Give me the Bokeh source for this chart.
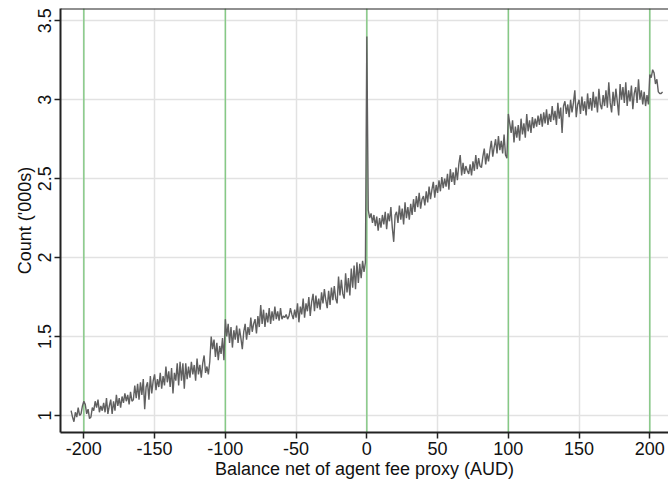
import numpy as np
from bokeh.plotting import figure
from bokeh.models import Span, FixedTicker, CustomJSTickFormatter
from bokeh.embed import file_html
from bokeh.resources import INLINE

# Balance bins (1 AUD wide) and counts in thousands
balance = list(range(-209, 210))
count = [
    1.03, 0.99, 0.96, 1.02, 0.99, 1.05, 1.00, 1.01, 1.06, 1.09,
    1.07, 1.01, 1.04, 0.98, 0.99, 1.05, 1.03, 1.09, 1.05, 1.10,
    1.02, 1.06, 1.03, 1.08, 1.02, 1.11, 1.01, 1.06, 1.10, 1.01,
    1.09, 1.03, 1.13, 1.06, 1.11, 1.05, 1.12, 1.08, 1.14, 1.09,
    1.13, 1.07, 1.15, 1.09, 1.10, 1.19, 1.11, 1.20, 1.10, 1.21,
    1.13, 1.23, 1.04, 1.18, 1.21, 1.10, 1.25, 1.14, 1.22, 1.26,
    1.16, 1.23, 1.18, 1.27, 1.17, 1.25, 1.19, 1.31, 1.21, 1.28,
    1.18, 1.30, 1.14, 1.27, 1.22, 1.33, 1.19, 1.34, 1.22, 1.33,
    1.17, 1.33, 1.23, 1.31, 1.24, 1.34, 1.26, 1.32, 1.22, 1.36,
    1.26, 1.32, 1.24, 1.33, 1.38, 1.27, 1.31, 1.26, 1.34, 1.50,
    1.42, 1.48, 1.37, 1.46, 1.35, 1.44, 1.39, 1.49, 1.35, 1.61,
    1.50, 1.58, 1.46, 1.56, 1.43, 1.54, 1.48, 1.57, 1.46, 1.55,
    1.49, 1.42, 1.53, 1.58, 1.48, 1.56, 1.51, 1.62, 1.53, 1.58,
    1.61, 1.52, 1.63, 1.56, 1.70, 1.58, 1.67, 1.56, 1.65, 1.59,
    1.68, 1.58, 1.66, 1.60, 1.69, 1.61, 1.66, 1.60, 1.68, 1.61,
    1.63, 1.62, 1.64, 1.61, 1.63, 1.68, 1.64, 1.61, 1.67, 1.62,
    1.71, 1.59, 1.69, 1.64, 1.74, 1.62, 1.71, 1.66, 1.75, 1.63,
    1.72, 1.77, 1.66, 1.76, 1.68, 1.74, 1.67, 1.78, 1.71, 1.80,
    1.73, 1.68, 1.79, 1.70, 1.81, 1.73, 1.82, 1.74, 1.71, 1.88,
    1.76, 1.86, 1.77, 1.74, 1.90, 1.78, 1.87, 1.76, 1.93, 1.81,
    1.95, 1.80, 1.97, 1.84, 1.96, 1.87, 1.98, 1.91, 1.97,
    3.40,
    2.30, 2.25, 2.28, 2.22, 2.27, 2.20, 2.26, 2.17, 2.25, 2.19,
    2.27, 2.21, 2.29, 2.18, 2.28, 2.23, 2.32, 2.19, 2.10, 2.27,
    2.29, 2.22, 2.33, 2.24, 2.31, 2.21, 2.35, 2.25, 2.32, 2.24,
    2.34, 2.27, 2.37, 2.29, 2.39, 2.32, 2.41, 2.31, 2.37, 2.39,
    2.33, 2.42, 2.35, 2.45, 2.37, 2.43, 2.48, 2.38, 2.46, 2.41,
    2.49, 2.42, 2.51, 2.44, 2.50, 2.45, 2.53, 2.43, 2.56, 2.48,
    2.54, 2.46, 2.57, 2.49, 2.59, 2.65, 2.52, 2.60, 2.53, 2.58,
    2.55, 2.53, 2.59, 2.52, 2.61, 2.55, 2.65, 2.56, 2.63, 2.58,
    2.57, 2.64, 2.69, 2.59, 2.66, 2.61, 2.68, 2.74, 2.64, 2.70,
    2.75, 2.66, 2.77, 2.68, 2.74, 2.66, 2.78, 2.65, 2.63,
    2.91,
    2.85, 2.79, 2.87, 2.73, 2.83, 2.76, 2.84, 2.74, 2.88, 2.78,
    2.85, 2.76, 2.91, 2.80, 2.87, 2.79, 2.89, 2.82, 2.88, 2.83,
    2.90, 2.84, 2.91, 2.83, 2.92, 2.85, 2.94, 2.84, 2.91, 2.86,
    2.96, 2.87, 2.93, 2.84, 2.98, 2.88, 2.95, 2.79, 2.96, 2.99,
    2.91, 2.97, 2.89, 3.00, 2.92, 2.98, 3.06, 2.89, 2.97, 3.00,
    2.91, 3.02, 2.93, 2.99, 2.90, 3.04, 2.94, 3.01, 2.93, 3.05,
    2.95, 3.02, 2.92, 3.07, 2.97, 2.94, 3.03, 2.96, 3.06, 2.95,
    3.11, 2.98, 2.92, 3.05, 2.96, 3.07, 2.99, 2.90, 3.10, 3.00,
    3.08, 2.98, 3.11, 2.96, 3.06, 2.99, 3.09, 2.94, 3.04, 3.08,
    2.98, 3.13, 3.00, 3.06, 2.97, 3.05, 2.96, 3.03, 2.97,
    3.16, 3.14, 3.19, 3.17, 3.10, 3.13, 3.05, 3.04, 3.04, 3.05,
]
assert len(balance) == len(count)

x_ticks = [-200, -150, -100, -50, 0, 50, 100, 150, 200]
y_ticks = [1, 1.5, 2, 2.5, 3, 3.5]
marker_lines = [-200, -100, 0, 100, 200]

FONT = "Liberation Sans"

p = figure(
    width=668, height=483,
    x_range=(-216.5, 213.2), y_range=(0.892, 3.578),
    output_backend="svg", toolbar_location=None,
    min_border_left=60, min_border_right=0,
    min_border_top=8, min_border_bottom=51,
    background_fill_color="white", border_fill_color="white",
)
p.outline_line_color = None

# Gridlines
for g in (p.xgrid, p.ygrid):
    g.grid_line_color = "#e2e2e2"
    g.grid_line_width = 1.5
p.xgrid.ticker = FixedTicker(ticks=x_ticks)
p.ygrid.ticker = FixedTicker(ticks=y_ticks)

# Reference lines every 100 AUD
for xv in marker_lines:
    p.add_layout(Span(location=xv, dimension="height", line_color="#86c986",
                      line_width=1.5, level="underlay"))

# Top frame line
p.add_layout(Span(location=3.578, dimension="width", line_color="#222222",
                  line_width=2))

p.line(balance, count, line_color="#606060", line_width=1.4)

# Axes
p.xaxis.ticker = FixedTicker(ticks=x_ticks)
p.yaxis.ticker = FixedTicker(ticks=y_ticks)
p.yaxis.formatter = CustomJSTickFormatter(code="return tick.toString();")
p.xaxis.formatter = CustomJSTickFormatter(code="return tick.toString();")
p.xaxis.axis_label = "Balance net of agent fee proxy (AUD)"
p.yaxis.axis_label = "Count ('000s)"
p.yaxis.major_label_orientation = "vertical"
for ax in (p.xaxis[0], p.yaxis[0]):
    ax.axis_line_color = "#222222"
    ax.axis_line_width = 2
    ax.major_tick_line_color = "#222222"
    ax.major_tick_line_width = 1.5
    ax.major_tick_out = 6
    ax.major_tick_in = 0
    ax.minor_tick_line_color = None
    ax.major_label_text_font = FONT
    ax.major_label_text_font_size = "18px"
    ax.major_label_text_color = "#111111"
    ax.axis_label_text_font = FONT
    ax.axis_label_text_font_size = "18px"
    ax.axis_label_text_font_style = "normal"
    ax.axis_label_text_color = "#111111"
    ax.major_label_standoff = 3
    ax.axis_label_standoff = 1

open("out.html", "w").write(file_html(p, INLINE))
